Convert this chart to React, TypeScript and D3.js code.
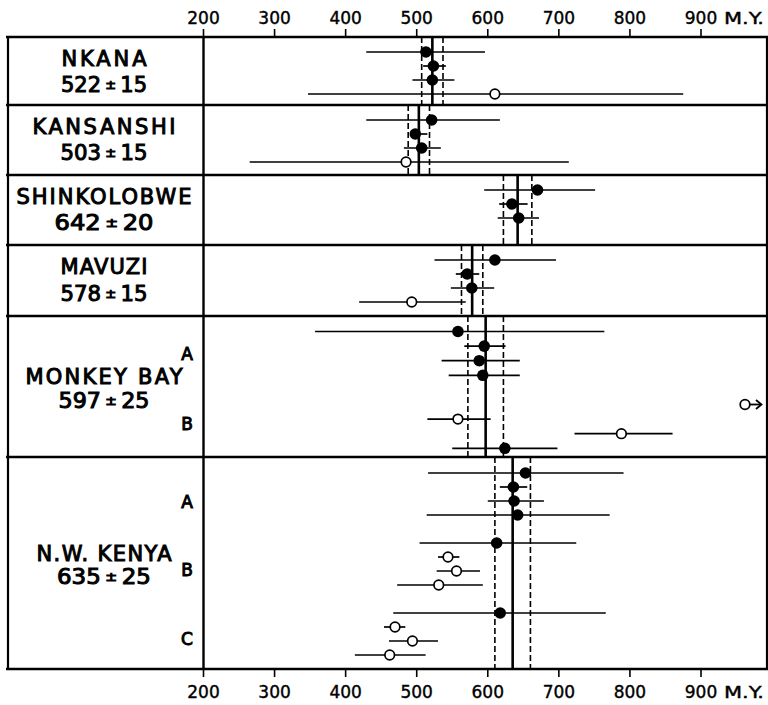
import React from "react";
import * as d3 from "d3";

// ---------- data ----------
const axisTicks = [200, 300, 400, 500, 600, 700, 800, 900];
const axisUnit = "M.Y.";

const panelNames = ["NKANA", "KANSANSHI", "SHINKOLOBWE", "MAVUZI", "MONKEY BAY", "N.W. KENYA"];
const panelAges = [522, 503, 642, 578, 597, 635];
const panelErrs = [15, 15, 20, 15, 25, 25];

// [slot, age, low, high, open]
type Row = [number, number, number, number, boolean];

const nkanaRows: Row[] = [
  [0, 513, 429, 596, false],
  [1, 523.5, 509, 541, false],
  [2, 522, 494, 553, false],
  [3, 610, 347, 875, true],
];
const kansanshiRows: Row[] = [
  [0, 521, 429, 617, false],
  [1, 498, 492, 515, false],
  [2, 507, 482, 534, false],
  [3, 485, 265, 714, true],
];
const shinkolobweRows: Row[] = [
  [0, 670, 595, 751, false],
  [1, 634, 616, 656, false],
  [2, 643.5, 614, 672, false],
];
const mavuziRows: Row[] = [
  [0, 610, 525, 696, false],
  [1, 571, 555, 588, false],
  [2, 577.5, 548, 609, false],
  [3, 493, 419, 569, true],
];
const monkeyBayRows: Row[] = [
  [0, 558, 357, 764, false],
  [1, 595, 567, 625, false],
  [2, 588, 535, 645, false],
  [3, 593, 545, 645, false],
  [6, 558, 515, 604, true],
  [7, 788, 722, 860, true],
  [8, 624, 550, 698, false],
];
// off-scale point (open circle with arrow): [slot, age]
const monkeyBayOffScale: [number, number][] = [[5, 966]];
const kenyaRows: Row[] = [
  [0, 653, 516, 791, false],
  [1, 636, 617, 655.5, false],
  [2, 637, 600, 679, false],
  [3, 642, 514, 771.5, false],
  [5, 612.5, 504, 724.5, false],
  [6, 544, 530, 560, true],
  [7, 556, 528, 589, true],
  [8, 531, 472.5, 593, true],
  [10, 617.5, 467, 766, false],
  [11, 469.5, 454, 484, true],
  [12, 494, 461, 530, true],
  [13, 462, 413, 512.5, true],
];
const panelRows: Row[][] = [nkanaRows, kansanshiRows, shinkolobweRows, mavuziRows, monkeyBayRows, kenyaRows];

// sub-group letters: [panel, letter, slot position]
const subLabels: [number, string, number][] = [
  [4, "A", 1.5],
  [4, "B", 6.3],
  [5, "A", 2.0],
  [5, "B", 6.9],
  [5, "C", 11.8],
];

// ---------- layout ----------
const W = 768;
const H = 705;
const frameL = 8;
const frameR = 767;
const panelEdges = [37, 105, 175, 245, 316, 457, 669];
const rowFirst = [15, 15, 15, 15, 15.5, 16];
const rowStep = [14, 14, 14, 14, 14.6, 14];
const nameW = [85, 143, 175, 87, 157, 135];
const numW = [86, 87, 99, 87, 91, 94];
const line1 = [29, 29, 29, 29, 68, 104];
const line2 = [55, 55, 55, 56, 92, 127];

const x = d3.scaleLinear().domain([200, 900]).range([203.5, 701]);
const LABEL_FONT = "'DejaVu Sans', Verdana, sans-serif";

function rowY(p: number, slot: number) {
  const s = d3
    .scaleLinear()
    .domain([0, 1])
    .range([panelEdges[p] + rowFirst[p], panelEdges[p] + rowFirst[p] + rowStep[p]]);
  return s(slot);
}

const labelStyle = {
  fontFamily: LABEL_FONT,
  fontWeight: "normal" as const,
  stroke: "#000",
  strokeWidth: 1.0,
  fill: "#000",
};

function NumLabel({ p }: { p: number }) {
  const cx = 104;
  const y = panelEdges[p] + line2[p];
  return (
    <text
      x={cx}
      y={y}
      textAnchor="middle"
      style={labelStyle}
      fontSize={21}
      textLength={numW[p]}
      lengthAdjust="spacingAndGlyphs"
    >
      {String(panelAges[p])}
      <tspan fontSize={13} dy={-3}>{" ± "}</tspan>
      <tspan dy={3}>{String(panelErrs[p])}</tspan>
    </text>
  );
}

export default function App() {
  const panels = panelNames.map((name, p) => {
    const top = panelEdges[p];
    const bot = panelEdges[p + 1];
    const c = panelAges[p];
    const e = panelErrs[p];
    return (
      <g key={name}>
        {/* dashed error limits */}
        {[c - e, c + e].map((v, i) => (
          <line
            key={i}
            x1={x(v)}
            x2={x(v)}
            y1={top}
            y2={bot}
            stroke="#000"
            strokeWidth={1.6}
            strokeDasharray="6,3"
          />
        ))}
        {/* central age */}
        <line x1={x(c)} x2={x(c)} y1={top} y2={bot} stroke="#000" strokeWidth={2.6} />
        {/* error bars */}
        {panelRows[p].map((r, i) => (
          <line
            key={"b" + i}
            x1={x(r[2])}
            x2={x(r[3])}
            y1={rowY(p, r[0])}
            y2={rowY(p, r[0])}
            stroke="#000"
            strokeWidth={1.7}
          />
        ))}
        {/* points */}
        {panelRows[p].map((r, i) =>
          r[4] ? (
            <circle
              key={"c" + i}
              cx={x(r[1])}
              cy={rowY(p, r[0])}
              r={4.8}
              fill="#fff"
              stroke="#000"
              strokeWidth={1.7}
            />
          ) : (
            <circle key={"c" + i} cx={x(r[1])} cy={rowY(p, r[0])} r={5.8} fill="#000" />
          )
        )}
        {/* names */}
        <text
          x={104}
          y={top + line1[p]}
          textAnchor="middle"
          style={labelStyle}
          fontSize={21}
          textLength={nameW[p]}
          lengthAdjust="spacing"
        >
          {name}
        </text>
        <NumLabel p={p} />
      </g>
    );
  });

  return (
    <svg
      width={W}
      height={H}
      viewBox={`0 0 ${W} ${H}`}
      style={{ position: "absolute", left: 0, top: 0, background: "#fff" }}
    >
      <rect x={0} y={0} width={W} height={H} fill="#fff" />
      {panels}

      {/* off-scale point with arrow */}
      {monkeyBayOffScale.map(([slot, age], i) => {
        const cx = Math.min(x(age), 745);
        const cy = rowY(4, slot);
        return (
          <g key={"off" + i}>
            <line x1={cx + 4.6} x2={cx + 16} y1={cy} y2={cy} stroke="#000" strokeWidth={1.8} />
            <path
              d={`M${cx + 11},${cy - 4.5} L${cx + 16.5},${cy} L${cx + 11},${cy + 4.5}`}
              fill="none"
              stroke="#000"
              strokeWidth={1.8}
            />
            <circle cx={cx} cy={cy} r={4.8} fill="#fff" stroke="#000" strokeWidth={1.7} />
          </g>
        );
      })}

      {/* sub-group letters */}
      {subLabels.map(([p, letter, slot], i) => (
        <text
          key={"s" + i}
          x={187}
          y={rowY(p, slot) + 6.5}
          textAnchor="middle"
          style={labelStyle}
          fontSize={17}
        >
          {letter}
        </text>
      ))}

      {/* panel separators and frame */}
      {panelEdges.map((y, i) => (
        <line key={"e" + i} x1={frameL - 2} x2={W} y1={y} y2={y} stroke="#000" strokeWidth={2.6} />
      ))}
      <line x1={frameL} x2={frameL} y1={panelEdges[0]} y2={panelEdges[6]} stroke="#000" strokeWidth={2.2} />
      <line x1={frameR} x2={frameR} y1={panelEdges[0]} y2={panelEdges[6]} stroke="#000" strokeWidth={2.2} />
      <line x1={x(200)} x2={x(200)} y1={panelEdges[0]} y2={panelEdges[6]} stroke="#000" strokeWidth={2.4} />

      {/* axes */}
      {axisTicks.map((t) => (
        <g key={"t" + t}>
          <line x1={x(t)} x2={x(t)} y1={panelEdges[0] - 8} y2={panelEdges[0]} stroke="#000" strokeWidth={1.6} />
          <line x1={x(t)} x2={x(t)} y1={panelEdges[6]} y2={panelEdges[6] + 8} stroke="#000" strokeWidth={1.6} />
          <text x={x(t)} y={24} textAnchor="middle" fontFamily={LABEL_FONT} fontSize={17} stroke="#000" strokeWidth={0.4}>
            {String(t)}
          </text>
          <text x={x(t)} y={698} textAnchor="middle" fontFamily={LABEL_FONT} fontSize={17} stroke="#000" strokeWidth={0.4}>
            {String(t)}
          </text>
        </g>
      ))}
      <text x={724} y={24} fontFamily={LABEL_FONT} fontSize={16} textLength={40} lengthAdjust="spacingAndGlyphs" stroke="#000" strokeWidth={0.4}>
        {axisUnit}
      </text>
      <text x={724} y={698} fontFamily={LABEL_FONT} fontSize={16} textLength={40} lengthAdjust="spacingAndGlyphs" stroke="#000" strokeWidth={0.4}>
        {axisUnit}
      </text>
    </svg>
  );
}
